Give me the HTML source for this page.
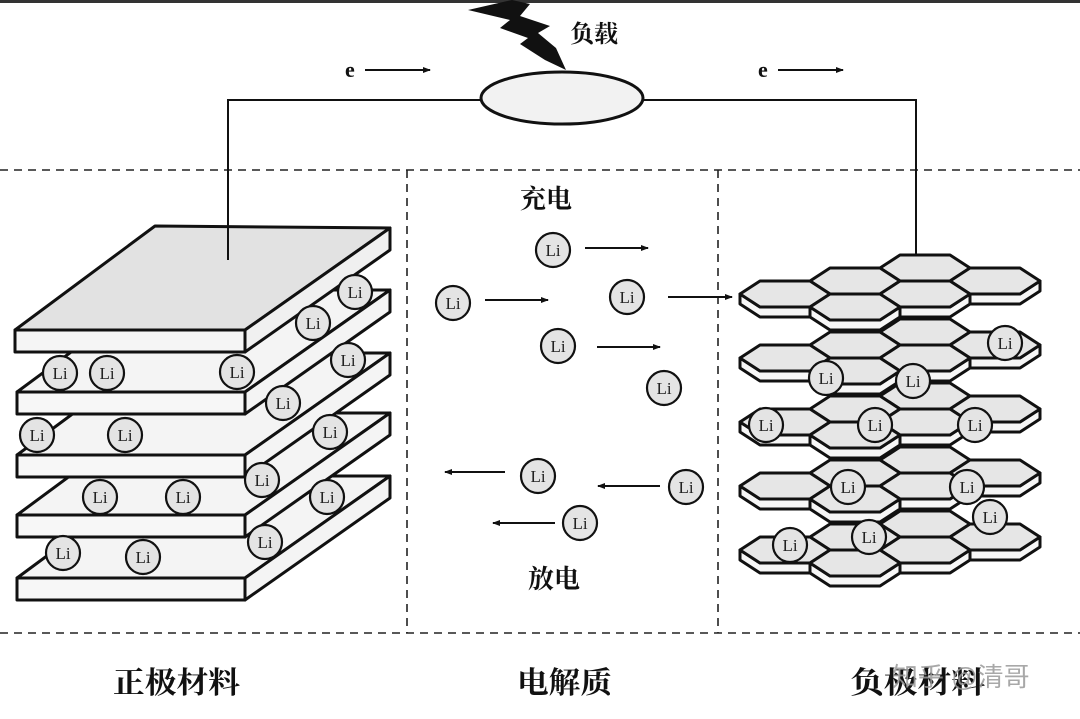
<!DOCTYPE html>
<html><head><meta charset="utf-8"><style>
html,body{margin:0;padding:0;background:#fff;}
svg{display:block;}
.t{font-family:"Liberation Serif","Noto Serif CJK SC",serif;font-weight:bold;fill:#111;}
.li{font-family:"Liberation Serif",serif;font-size:17px;fill:#222;}
</style></head><body>
<svg width="1080" height="719" viewBox="0 0 1080 719" xmlns="http://www.w3.org/2000/svg">
<defs>
<symbol id="li" overflow="visible">
<circle cx="0" cy="0" r="17" fill="#e4e4e4" stroke="#111" stroke-width="2.2"/>
<text x="0" y="6" text-anchor="middle" class="li">Li</text>
</symbol>
<g id="hx">
<polygon points="0,13 20,26 70,26 90,13 90,23 70,36 20,36 0,23" fill="#f6f6f6" stroke="#111" stroke-width="3" stroke-linejoin="round"/>
<polygon points="0,13 20,0 70,0 90,13 70,26 20,26" fill="#e6e6e6" stroke="#111" stroke-width="3" stroke-linejoin="round"/>
</g>
<g id="layer">
<use href="#hx" transform="translate(140,-26)"/>
<use href="#hx" transform="translate(70,-13)"/>
<use href="#hx" transform="translate(210,-13)"/>
<use href="#hx" transform="translate(0,0)"/>
<use href="#hx" transform="translate(140,0)"/>
<use href="#hx" transform="translate(70,13)"/>
</g>
<marker id="ah" markerWidth="8" markerHeight="6" refX="7" refY="3" orient="auto" markerUnits="userSpaceOnUse">
<polygon points="0,0 8,3 0,6" fill="#111"/>
</marker>
</defs>
<rect x="0" y="0" width="1080" height="3" fill="#333"/>
<g stroke="#222" stroke-width="1.6" stroke-dasharray="8,6" fill="none">
<line x1="0" y1="170" x2="1080" y2="170"/>
<line x1="0" y1="633" x2="1080" y2="633"/>
<line x1="407" y1="170" x2="407" y2="633"/>
<line x1="718" y1="170" x2="718" y2="633"/>
</g>
<polyline points="228,258 228,100 482,100" fill="none" stroke="#111" stroke-width="2"/>
<polyline points="643,100 916,100 916,260" fill="none" stroke="#111" stroke-width="2"/>
<ellipse cx="562" cy="98" rx="81" ry="26" fill="#f2f2f2" stroke="#111" stroke-width="3"/>
<polygon points="468,10 512,0 530,4 520,16 550,26 538,33 556,48 566,70 545,60 520,44 528,38 500,28 510,20" fill="#111"/>
<text x="570" y="42" class="t" font-size="24">负载</text>
<text x="345" y="77" class="t" font-size="22">e</text>
<line x1="365" y1="70" x2="430" y2="70" stroke="#111" stroke-width="2" marker-end="url(#ah)"/>
<text x="758" y="77" class="t" font-size="22">e</text>
<line x1="778" y1="70" x2="843" y2="70" stroke="#111" stroke-width="2" marker-end="url(#ah)"/>
<g stroke="#111" stroke-width="3" stroke-linejoin="round">
<g transform="translate(0,248)">
<polygon points="17,330 155,228 390,228 245,330" fill="#f4f4f4"/>
<rect x="17" y="330" width="228" height="22" fill="#f7f7f7"/>
<polygon points="245,330 390,228 390,250 245,352" fill="#f4f4f4"/>
</g>
<g transform="translate(0,185)">
<polygon points="17,330 155,228 390,228 245,330" fill="#f4f4f4"/>
<rect x="17" y="330" width="228" height="22" fill="#f7f7f7"/>
<polygon points="245,330 390,228 390,250 245,352" fill="#f4f4f4"/>
</g>
<g transform="translate(0,125)">
<polygon points="17,330 155,228 390,228 245,330" fill="#f4f4f4"/>
<rect x="17" y="330" width="228" height="22" fill="#f7f7f7"/>
<polygon points="245,330 390,228 390,250 245,352" fill="#f4f4f4"/>
</g>
<g transform="translate(0,62)">
<polygon points="17,330 155,228 390,228 245,330" fill="#f4f4f4"/>
<rect x="17" y="330" width="228" height="22" fill="#f7f7f7"/>
<polygon points="245,330 390,228 390,250 245,352" fill="#f4f4f4"/>
</g>
<g>
<polygon points="15,330 155,226 390,228 245,330" fill="#e2e2e2"/>
<rect x="15" y="330" width="230" height="22" fill="#f5f5f5"/>
<polygon points="245,330 390,228 390,250 245,352" fill="#f0f0f0"/>
</g>
</g>
<line x1="228" y1="225" x2="228" y2="260" stroke="#111" stroke-width="2"/>
<use href="#li" x="60" y="373"/><use href="#li" x="107" y="373"/><use href="#li" x="237" y="372"/>
<use href="#li" x="355" y="292"/><use href="#li" x="313" y="323"/><use href="#li" x="348" y="360"/>
<use href="#li" x="283" y="403"/><use href="#li" x="37" y="435"/><use href="#li" x="125" y="435"/>
<use href="#li" x="330" y="432"/><use href="#li" x="262" y="480"/><use href="#li" x="100" y="497"/>
<use href="#li" x="183" y="497"/><use href="#li" x="327" y="497"/><use href="#li" x="63" y="553"/>
<use href="#li" x="143" y="557"/><use href="#li" x="265" y="542"/>
<use href="#layer" transform="translate(740,537)"/>
<use href="#layer" transform="translate(740,473)"/>
<use href="#layer" transform="translate(740,409)"/>
<use href="#layer" transform="translate(740,345)"/>
<use href="#layer" transform="translate(740,281)"/>
<use href="#li" x="1005" y="343"/><use href="#li" x="826" y="378"/><use href="#li" x="913" y="381"/>
<use href="#li" x="766" y="425"/><use href="#li" x="875" y="425"/><use href="#li" x="975" y="425"/>
<use href="#li" x="848" y="487"/><use href="#li" x="967" y="487"/><use href="#li" x="990" y="517"/>
<use href="#li" x="790" y="545"/><use href="#li" x="869" y="537"/>
<text x="520" y="208" class="t" font-size="26">充电</text>
<text x="528" y="588" class="t" font-size="26">放电</text>
<use href="#li" x="553" y="250"/><use href="#li" x="453" y="303"/><use href="#li" x="627" y="297"/>
<use href="#li" x="558" y="346"/><use href="#li" x="664" y="388"/><use href="#li" x="538" y="476"/>
<use href="#li" x="686" y="487"/><use href="#li" x="580" y="523"/>
<g stroke="#111" stroke-width="2">
<line x1="585" y1="248" x2="648" y2="248" marker-end="url(#ah)"/>
<line x1="485" y1="300" x2="548" y2="300" marker-end="url(#ah)"/>
<line x1="668" y1="297" x2="732" y2="297" marker-end="url(#ah)"/>
<line x1="597" y1="347" x2="660" y2="347" marker-end="url(#ah)"/>
<line x1="505" y1="472" x2="445" y2="472" marker-end="url(#ah)"/>
<line x1="660" y1="486" x2="598" y2="486" marker-end="url(#ah)"/>
<line x1="555" y1="523" x2="493" y2="523" marker-end="url(#ah)"/>
</g>
<text x="113" y="693" class="t" font-size="30" textLength="127" lengthAdjust="spacingAndGlyphs">正极材料</text>
<text x="517" y="693" class="t" font-size="30" textLength="95" lengthAdjust="spacingAndGlyphs">电解质</text>
<text x="850" y="693" class="t" font-size="30" textLength="135" lengthAdjust="spacingAndGlyphs">负极材料</text>
<text x="892" y="686" font-family="Liberation Sans,'Noto Sans CJK SC',sans-serif" font-size="26" fill="#999" opacity="0.85">知乎 @清哥</text>
</svg>
</body></html>
